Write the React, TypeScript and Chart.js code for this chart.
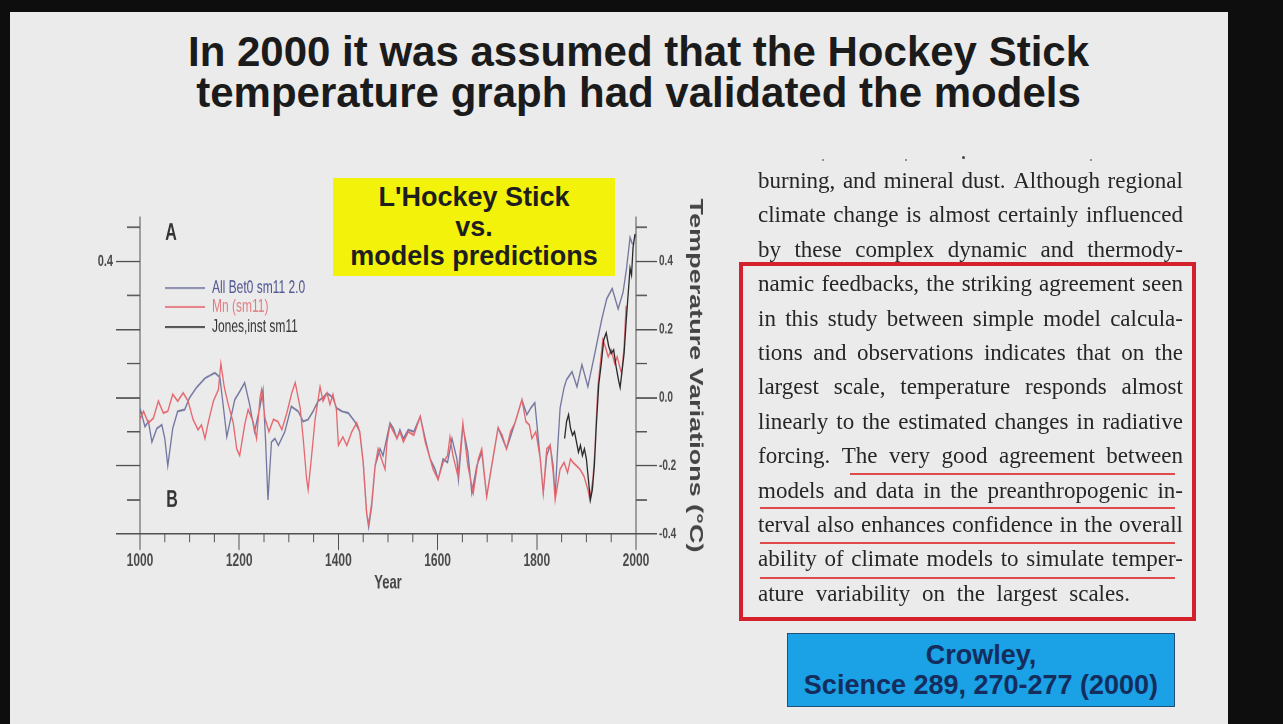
import React, { useEffect, useRef } from 'react';
import { Chart, registerables } from 'chart.js';

Chart.register(...registerables);

const SANS = "'Liberation Sans', Arial, Helvetica, sans-serif";
const SERIF = "'Liberation Serif', 'Times New Roman', serif";

// ---------- data ----------
const modelYears = [1000, 1010, 1017, 1024, 1034, 1044, 1050, 1056, 1066, 1076, 1090, 1100, 1114, 1131, 1151, 1161, 1168, 1175, 1183, 1191, 1201, 1211, 1221, 1231, 1242, 1248, 1253, 1258, 1265, 1272, 1279, 1292, 1305, 1319, 1329, 1339, 1349, 1359, 1369, 1377, 1389, 1396, 1407, 1420, 1433, 1443, 1450, 1457, 1461, 1467, 1474, 1484, 1490, 1498, 1504, 1511, 1518, 1524, 1531, 1541, 1552, 1565, 1575, 1585, 1595, 1601, 1611, 1620, 1629, 1639, 1642, 1651, 1661, 1669, 1679, 1689, 1699, 1709, 1722, 1739, 1756, 1770, 1780, 1788, 1796, 1807, 1813, 1820, 1827, 1833, 1837, 1842, 1847, 1855, 1860, 1871, 1881, 1891, 1903, 1917, 1931, 1941, 1952, 1964, 1974, 1981, 1988, 1993];
const modelValues = [-0.03, -0.085, -0.07, -0.13, -0.09, -0.08, -0.12, -0.2, -0.09, -0.04, -0.035, 0.0, 0.03, 0.057, 0.073, 0.06, -0.026, -0.115, -0.06, -0.006, 0.018, 0.044, -0.02, -0.1, -0.026, 0.023, -0.12, -0.3, -0.13, -0.12, -0.14, -0.1, -0.026, -0.04, -0.07, -0.064, -0.04, -0.01, 0.0, 0.014, 0.0, -0.03, -0.04, -0.045, -0.07, -0.1, -0.19, -0.34, -0.38, -0.32, -0.2, -0.15, -0.17, -0.115, -0.074, -0.09, -0.12, -0.094, -0.12, -0.094, -0.1, -0.055, -0.12, -0.18, -0.21, -0.24, -0.18, -0.19, -0.12, -0.18, -0.24, -0.085, -0.16, -0.28, -0.2, -0.16, -0.29, -0.2, -0.088, -0.15, -0.074, -0.006, -0.05, -0.03, -0.015, -0.18, -0.28, -0.17, -0.14, -0.2, -0.29, -0.15, -0.03, 0.03, 0.053, 0.076, 0.032, 0.097, 0.032, 0.13, 0.23, 0.29, 0.32, 0.26, 0.31, 0.38, 0.47, 0.45];

const mannYears = [1000, 1007, 1017, 1027, 1037, 1047, 1056, 1066, 1076, 1087, 1097, 1107, 1117, 1124, 1131, 1138, 1148, 1158, 1163, 1170, 1178, 1188, 1195, 1201, 1211, 1218, 1228, 1235, 1242, 1245, 1252, 1260, 1269, 1278, 1286, 1296, 1306, 1313, 1323, 1329, 1336, 1339, 1346, 1353, 1363, 1369, 1377, 1383, 1389, 1396, 1400, 1409, 1417, 1427, 1437, 1443, 1450, 1457, 1461, 1467, 1474, 1480, 1487, 1494, 1498, 1504, 1511, 1518, 1524, 1531, 1541, 1552, 1565, 1575, 1585, 1591, 1601, 1611, 1620, 1625, 1631, 1641, 1651, 1661, 1672, 1682, 1689, 1699, 1709, 1722, 1730, 1739, 1747, 1756, 1765, 1770, 1778, 1785, 1790, 1798, 1807, 1813, 1820, 1827, 1833, 1837, 1847, 1855, 1862, 1868, 1873, 1880, 1887, 1895, 1903, 1907, 1913, 1917, 1923, 1933, 1938, 1944, 1950, 1957, 1962, 1971, 1976, 1980];
const mannValues = [-0.064, -0.04, -0.074, -0.06, -0.01, -0.045, -0.04, 0.01, -0.01, 0.014, -0.01, -0.064, -0.094, -0.08, -0.12, -0.07, -0.01, 0.023, 0.1, 0.03, -0.02, -0.074, -0.15, -0.17, -0.08, -0.035, -0.07, -0.12, 0.0, 0.023, -0.06, -0.1, -0.064, -0.07, -0.094, -0.045, 0.014, 0.044, -0.03, -0.12, -0.24, -0.27, -0.17, -0.064, 0.032, -0.01, 0.014, -0.02, 0.01, -0.035, -0.14, -0.115, -0.14, -0.1, -0.074, -0.1, -0.19, -0.34, -0.37, -0.31, -0.2, -0.15, -0.18, -0.21, -0.13, -0.08, -0.1, -0.12, -0.1, -0.13, -0.1, -0.11, -0.055, -0.13, -0.18, -0.21, -0.24, -0.19, -0.17, -0.115, -0.17, -0.23, -0.074, -0.2, -0.28, -0.18, -0.15, -0.29, -0.2, -0.088, -0.11, -0.15, -0.1, -0.074, -0.03, -0.006, -0.07, -0.08, -0.12, -0.1, -0.18, -0.28, -0.15, -0.14, -0.22, -0.3, -0.21, -0.19, -0.22, -0.18, -0.19, -0.2, -0.21, -0.23, -0.27, -0.3, -0.24, -0.16, 0.03, 0.17, 0.15, 0.12, 0.14, 0.1, 0.12, 0.07, 0.15, 0.27];

const jonesYears = [1856, 1860, 1864, 1868, 1872, 1876, 1880, 1884, 1888, 1892, 1896, 1900, 1904, 1908, 1912, 1916, 1920, 1925, 1930, 1935, 1940, 1945, 1950, 1955, 1960, 1965, 1968, 1972, 1976, 1980, 1984, 1988, 1991, 1994, 1998];
const jonesValues = [-0.12, -0.07, -0.05, -0.09, -0.11, -0.1, -0.13, -0.16, -0.14, -0.17, -0.15, -0.18, -0.24, -0.3, -0.27, -0.2, -0.08, 0.04, 0.1, 0.17, 0.19, 0.15, 0.13, 0.14, 0.09, 0.05, 0.03, 0.08, 0.13, 0.22, 0.3, 0.38, 0.36, 0.44, 0.48];

const seriesLabels = ['All Bet0 sm11 2.0', 'Mn (sm11)', 'Jones,inst sm11'];
const seriesColors = ['#73779f', '#e5676e', '#2a2a2a'];
const legendTextColors = ['#4d5290', '#e27a80', '#333333'];

const minorYearTicks = [1050, 1100, 1150, 1250, 1300, 1350, 1450, 1500, 1550, 1650, 1700, 1750, 1850, 1900, 1950];
const minorValueTicks = [-0.3, -0.1, 0.1, 0.3, 0.5];
const leftTickLabel = '0.4';
const xTitle = 'Year';
const yTitle = 'Temperature Variations (°C)';
const panelLabels = ['A', 'B'];

const titleLines = ['In 2000 it was assumed that the Hockey Stick', 'temperature graph had validated the models'];
const calloutLines = ["L'Hockey Stick", 'vs.', 'models predictions'];
const quoteLines = [
  'burning, and mineral dust. Although regional',
  'climate change is almost certainly influenced',
  'by these complex dynamic and thermody-',
  'namic feedbacks, the striking agreement seen',
  'in this study between simple model calcula-',
  'tions and observations indicates that on the',
  'largest scale, temperature responds almost',
  'linearly to the estimated changes in radiative',
  'forcing. The very good agreement between',
  'models and data in the preanthropogenic in-',
  'terval also enhances confidence in the overall',
  'ability of climate models to simulate temper-',
  'ature variability on the largest scales.',
];
const citationLines = ['Crowley,', 'Science 289, 270-277 (2000)'];

// ---------- chart geometry (pre-stretch canvas units) ----------
const CW = 680;
const CH = 290;
const STRETCH = 1.5;

const decorPlugin = {
  id: 'decor',
  afterDraw(chart: any) {
    const { ctx, chartArea, scales } = chart;
    const xs = scales.x;
    const ys = scales.y;
    ctx.save();
    ctx.strokeStyle = '#555';
    ctx.lineWidth = 1;
    ctx.beginPath();
    minorYearTicks.forEach((yr) => {
      const px = xs.getPixelForValue(yr);
      ctx.moveTo(px, chartArea.bottom);
      ctx.lineTo(px, chartArea.bottom + 5.5);
    });
    minorValueTicks.forEach((v) => {
      const py = ys.getPixelForValue(v);
      ctx.moveTo(chartArea.left, py);
      ctx.lineTo(chartArea.left - 13, py);
      ctx.moveTo(chartArea.right, py);
      ctx.lineTo(chartArea.right + 11, py);
    });
    ctx.stroke();

    // legend (order: model, Mann, Jones)
    const rows = [78.7, 91.3, 104.7];
    ctx.font = `12px ${SANS}`;
    ctx.textBaseline = 'middle';
    ctx.textAlign = 'left';
    seriesLabels.forEach((lab, i) => {
      ctx.strokeStyle = seriesColors[i];
      ctx.lineWidth = 1.2;
      ctx.beginPath();
      ctx.moveTo(105, rows[i]);
      ctx.lineTo(145, rows[i]);
      ctx.stroke();
      ctx.fillStyle = legendTextColors[i];
      ctx.fillText(lab, 152, rows[i]);
    });

    // panel labels
    ctx.font = `bold 16px ${SANS}`;
    ctx.fillStyle = '#333';
    ctx.textAlign = 'center';
    ctx.fillText(panelLabels[0], 111, 42);
    ctx.fillText(panelLabels[1], 112, 220);
    ctx.restore();
  },
};

function toPoints(xs: number[], ys: number[]) {
  return xs.map((x, i) => ({ x, y: ys[i] }));
}

const axisColor = '#505050';

function HockeyChart() {
  const canvasRef = useRef<HTMLCanvasElement>(null);
  useEffect(() => {
    const chart = new Chart(canvasRef.current as HTMLCanvasElement, {
      type: 'line',
      data: {
        datasets: [
          { label: seriesLabels[2], data: toPoints(jonesYears, jonesValues), borderColor: seriesColors[2], borderWidth: 1.3, pointRadius: 0, tension: 0, fill: false },
          { label: seriesLabels[1], data: toPoints(mannYears, mannValues), borderColor: seriesColors[1], borderWidth: 1.3, pointRadius: 0, tension: 0, fill: false },
          { label: seriesLabels[0], data: toPoints(modelYears, modelValues), borderColor: seriesColors[0], borderWidth: 1.3, pointRadius: 0, tension: 0, fill: false },
        ],
      },
      options: {
        animation: false,
        responsive: true,
        maintainAspectRatio: false,
        devicePixelRatio: 2,
        events: [],
        layout: { padding: { top: 31.33, right: 34.2, bottom: 0, left: 0 } },
        plugins: { legend: { display: false }, tooltip: { enabled: false } },
        scales: {
          x: {
            type: 'linear',
            position: 'bottom',
            min: 1000,
            max: 2000,
            ticks: {
              stepSize: 200,
              autoSkip: false,
              maxRotation: 0,
              padding: 0,
              color: '#4a4a4a',
              font: { family: SANS, size: 12, weight: 'bold' },
              callback: (v: any) => String(v),
            },
            grid: { drawOnChartArea: false, drawTicks: true, tickLength: 10.7, tickColor: axisColor, color: axisColor },
            border: { display: true, color: axisColor, width: 1 },
            title: { display: true, text: xTitle, color: '#444', font: { family: SANS, size: 13, weight: 'bold' }, padding: { top: 0, bottom: 7 } },
            afterFit: (s: any) => { s.height = 47.33; },
          },
          y: {
            position: 'left',
            min: -0.4,
            max: 0.53,
            ticks: {
              stepSize: 0.2,
              includeBounds: false,
              padding: 3,
              color: '#4a4a4a',
              font: { family: SANS, size: 11, weight: 'bold' },
              callback: (v: any) => (Math.abs(v - 0.4) < 1e-6 ? leftTickLabel : ''),
            },
            grid: { drawOnChartArea: false, drawTicks: true, tickLength: 24, tickColor: axisColor, color: axisColor },
            border: { display: true, color: axisColor, width: 1 },
            afterFit: (s: any) => { s.width = 80; },
          },
          y2: {
            position: 'right',
            min: -0.4,
            max: 0.53,
            ticks: {
              stepSize: 0.2,
              includeBounds: false,
              padding: 2,
              color: '#4a4a4a',
              font: { family: SANS, size: 10, weight: 'bold' },
              callback: (v: any) => Number(v).toFixed(1).replace('-0.0', '0.0'),
            },
            grid: { drawOnChartArea: false, drawTicks: true, tickLength: 21, tickColor: axisColor, color: axisColor },
            border: { display: true, color: axisColor, width: 1 },
            title: { display: true, text: yTitle, color: '#444', font: { family: SANS, size: 18, weight: 'bold' }, padding: 0 },
            afterFit: (s: any) => { s.width = 69.8; },
          },
        },
      } as any,
      plugins: [decorPlugin],
    });
    return () => chart.destroy();
  }, []);

  return (
    <div
      style={{
        position: 'absolute',
        left: 60,
        top: 170,
        width: CW,
        height: CH,
        transform: `scaleY(${STRETCH})`,
        transformOrigin: '0 0',
      }}
    >
      <canvas ref={canvasRef} />
    </div>
  );
}

export default function App() {
  const lineTop = 164;
  const linePitch = 34.4;
  return (
    <div style={{ position: 'absolute', left: 0, top: 0, width: 1283, height: 724, background: '#0e0e0e', overflow: 'hidden' }}>
      <div style={{ position: 'absolute', left: 10, top: 12, width: 1218, height: 712, background: '#ebebeb' }} />

      <div
        style={{
          position: 'absolute',
          left: 0,
          top: 31,
          width: 1277,
          textAlign: 'center',
          fontFamily: SANS,
          fontWeight: 'bold',
          fontSize: 42,
          lineHeight: '41px',
          color: '#1b1b1b',
        }}
      >
        {titleLines.map((l) => (
          <div key={l}>{l}</div>
        ))}
      </div>

      <HockeyChart />

      <div
        style={{
          position: 'absolute',
          left: 333,
          top: 178,
          width: 282,
          height: 98,
          boxSizing: 'border-box',
          paddingTop: 5,
          background: '#f3f20b',
          textAlign: 'center',
          fontFamily: SANS,
          fontWeight: 'bold',
          fontSize: 27,
          lineHeight: '29.5px',
          color: '#1e1e1e',
        }}
      >
        {calloutLines.map((l) => (
          <div key={l}>{l}</div>
        ))}
      </div>

      {[822, 905, 1090].map((x) => (
        <div key={x} style={{ position: 'absolute', left: x, top: 159, width: 2, height: 2, background: '#777', borderRadius: 1 }} />
      ))}
      <div style={{ position: 'absolute', left: 962, top: 156, width: 3, height: 3, background: '#444', borderRadius: 2 }} />

      {quoteLines.map((l, i) => {
        const last = i === quoteLines.length - 1;
        const words = l.split(' ');
        return (
          <div
            key={i}
            style={{
              position: 'absolute',
              left: 758,
              top: lineTop + i * linePitch,
              width: 425,
              height: linePitch,
              lineHeight: `${linePitch}px`,
              fontFamily: SERIF,
              fontSize: 23,
              color: '#262626',
              display: 'flex',
              justifyContent: last ? 'flex-start' : 'space-between',
              whiteSpace: 'pre',
              wordSpacing: last ? 6 : 0,
            }}
          >
            {last ? <span>{l}</span> : words.map((w, j) => <span key={j}>{w}</span>)}
          </div>
        );
      })}

      {[
        [850, 473],
        [760, 507],
        [760, 542],
        [760, 577],
      ].map(([x, y]) => (
        <div key={y} style={{ position: 'absolute', left: x, top: y, width: 1175 - x, height: 1.5, background: '#e04a4a' }} />
      ))}

      <div
        style={{
          position: 'absolute',
          left: 739,
          top: 262,
          width: 457,
          height: 359,
          boxSizing: 'border-box',
          border: '4px solid #d4212b',
        }}
      />

      <div
        style={{
          position: 'absolute',
          left: 787,
          top: 633,
          width: 388,
          height: 74,
          boxSizing: 'border-box',
          background: '#1aa1e6',
          border: '1.5px solid #23507a',
          display: 'flex',
          flexDirection: 'column',
          justifyContent: 'center',
          alignItems: 'center',
          fontFamily: SANS,
          fontWeight: 'bold',
          fontSize: 27,
          lineHeight: '30px',
          color: '#142d5c',
        }}
      >
        {citationLines.map((l) => (
          <div key={l}>{l}</div>
        ))}
      </div>
    </div>
  );
}
